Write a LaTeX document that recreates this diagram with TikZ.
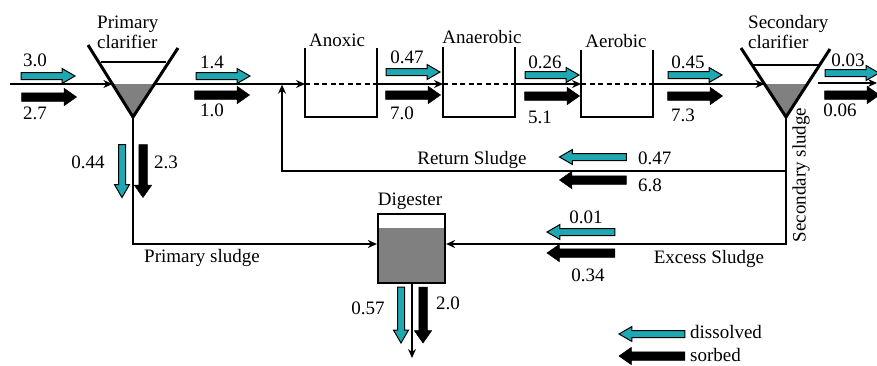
\documentclass[tikz,border=0pt]{standalone}
\usepackage{fontspec}
\setmainfont{Liberation Serif}
\newfontfamily\labelfont{Liberation Serif}
\usetikzlibrary{arrows.meta,shapes.arrows}
\definecolor{flowteal}{RGB}{30,168,178}
\definecolor{sludgegray}{RGB}{128,128,128}
\tikzset{
  lbl/.style={inner sep=0pt, font=\labelfont\fontsize{19}{21}\selectfont},
  pipe/.style={line width=1.3pt},
  flow/.style={pipe, -{Stealth[length=9pt,width=8pt]}},
  wall/.style={line width=2.6pt},
  cone/.style={line width=3pt},
  dissolvedarrow/.style={single arrow, draw=black, fill=flowteal, line width=1pt,
    inner sep=3pt, minimum width=0pt, single arrow head extend=4pt,
    single arrow tip angle=60},
  sorbedarrow/.style={single arrow, draw=black, fill=black, line width=0.5pt,
    inner sep=4pt, minimum width=0pt, single arrow head extend=4.5pt,
    single arrow tip angle=70},
  eastward/.style={shape border rotate=0},
  westward/.style={shape border rotate=180},
  southward/.style={shape border rotate=270},
}
\begin{document}
\begin{tikzpicture}[x=1pt,y=-1pt]
\useasboundingbox (0,0) rectangle (877,365);

% ---- key points of the process line
\coordinate (in)   at (10,84);
\coordinate (pcL)  at (112.4,84);
\coordinate (pcR)  at (154.5,84);
\coordinate (pcV)  at (133,117);
\coordinate (anL)  at (305,84);
\coordinate (anR)  at (377,84);
\coordinate (naL)  at (443,84);
\coordinate (naR)  at (515,84);
\coordinate (aeL)  at (581,84);
\coordinate (aeR)  at (653,84);
\coordinate (scL)  at (764.5,84);
\coordinate (scV)  at (786,117);
\coordinate (outA) at (818,83);
\coordinate (outB) at (877,83);
\coordinate (retA) at (786,171);
\coordinate (retB) at (282,171);
\coordinate (retC) at (282,84.7);
\coordinate (psB)  at (133,244);
\coordinate (exB)  at (786,244);
\coordinate (dgOut) at (412,358);

% ---- primary clarifier
\fill[sludgegray] (pcL) -- (pcR) -- (pcV) -- cycle;
\draw[pipe] (101,62) -- (166,62);
\draw[cone] (88,45) -- (pcV) -- (178,48);

% ---- secondary clarifier
\fill[sludgegray] (764.5,84) -- (807,84) -- (scV) -- cycle;
\draw[pipe] (753,65) -- (819,65);
\draw[cone] (741,48) -- (scV) -- (830,49);

% ---- reactor tanks
\draw[wall] (305,48) -- (305,117) -- (377,117) -- (377,48);
\draw[wall] (443,47) -- (443,117) -- (515,117) -- (515,47);
\draw[wall] (581,50) -- (581,117) -- (653,117) -- (653,50);
\draw[pipe,dash pattern=on 5pt off 3.5pt] (anL) -- (anR);
\draw[pipe,dash pattern=on 5pt off 3.5pt] (naL) -- (naR);
\draw[pipe,dash pattern=on 5pt off 3.5pt] (aeL) -- (aeR);

% ---- digester
\node[draw, line width=2.2pt, fill=sludgegray, minimum width=67pt, minimum height=69pt,
      inner sep=0pt] (dig) at (411.5,248.5) {};
\fill[white] (379,215) rectangle (444,228);

% ---- connectors
\draw[flow] (in) -- (pcL);
\draw[flow] (pcR) -- (anL);
\draw[flow] (anR) -- (naL);
\draw[flow] (naR) -- (aeL);
\draw[flow] (aeR) -- (scL);
\draw[flow] (outA) -- (outB);
\draw[flow] (scV) -- (retA) -- (retB) -- (retC);
\draw[flow] (pcV) -- (psB) -- (dig.west |- psB);
\draw[flow] (retA) -- (exB) -- (dig.east |- exB);
\draw[flow] (dig.south -| dgOut) -- (dgOut);

% ---- mass-flow arrows
\node[dissolvedarrow, eastward, minimum height=54pt] (a1) at (45,76) {};
\node[sorbedarrow, eastward, minimum height=55pt] (b1) at (46,97) {};
\node[dissolvedarrow, eastward, minimum height=54pt] (a2) at (220,76) {};
\node[sorbedarrow, eastward, minimum height=55pt] (b2) at (219,95) {};
\node[dissolvedarrow, eastward, minimum height=54pt] (a3) at (410,72) {};
\node[sorbedarrow, eastward, minimum height=55pt] (b3) at (410,95) {};
\node[dissolvedarrow, eastward, minimum height=54pt] (a4) at (549,75) {};
\node[sorbedarrow, eastward, minimum height=55pt] (b4) at (549,96) {};
\node[dissolvedarrow, eastward, minimum height=54pt] (a5) at (692,75) {};
\node[sorbedarrow, eastward, minimum height=55pt] (b5) at (692,96) {};
\node[dissolvedarrow, eastward, minimum height=54pt] (a6) at (849,73) {};
\node[sorbedarrow, eastward, minimum height=55pt] (b6) at (849,95) {};

\node[dissolvedarrow, southward, minimum height=53pt] (a7) at (122,168) {};
\node[sorbedarrow, southward, minimum height=53pt] (b7) at (143,168) {};
\node[dissolvedarrow, southward, minimum height=56pt] (a8) at (401,312) {};
\node[sorbedarrow, southward, minimum height=56pt] (b8) at (423,312) {};

\node[dissolvedarrow, westward, minimum height=67pt] (a9) at (596,157) {};
\node[sorbedarrow, westward, minimum height=67pt] (b9) at (596,180) {};
\node[dissolvedarrow, westward, minimum height=68pt] (a10) at (584,232) {};
\node[sorbedarrow, westward, minimum height=68pt] (b10) at (584,253) {};
\node[dissolvedarrow, westward, minimum height=66pt] (a11) at (655,334) {};
\node[sorbedarrow, westward, minimum height=66pt] (b11) at (655,356) {};

% ---- labels
\node[lbl, anchor=west, align=left] (tpc) at (97,32) {Primary\\[-1pt]clarifier};
\node[lbl, anchor=west, align=left] (tsc) at (748,32) {Secondary\\[-1pt]clarifier};
\node[lbl] (tan) at (337,40) {Anoxic};
\node[lbl] (tna) at (482,37) {Anaerobic};
\node[lbl] (tae) at (616,41) {Aerobic};
\node[lbl] (tdg) at (410,201) {Digester};
\node[lbl] (tret) at (472,160) {Return Sludge};
\node[lbl] (tps) at (202,258) {Primary sludge};
\node[lbl] (tex) at (709,259) {Excess Sludge};
\node[lbl, rotate=90] (tss) at (801,175) {Secondary sludge};

\node[lbl] at (35,60) {3.0};
\node[lbl] at (35,113) {2.7};
\node[lbl] at (212,62) {1.4};
\node[lbl] at (212,110) {1.0};
\node[lbl] at (88,162) {0.44};
\node[lbl] at (166,162) {2.3};
\node[lbl] at (407,57) {0.47};
\node[lbl] at (402,113) {7.0};
\node[lbl] at (545,62) {0.26};
\node[lbl] at (540,117) {5.1};
\node[lbl] at (688,62) {0.45};
\node[lbl] at (683,115) {7.3};
\node[lbl] at (848,60) {0.03};
\node[lbl] at (840,110) {0.06};
\node[lbl, anchor=west] at (638,158) {0.47};
\node[lbl, anchor=west] at (638,185) {6.8};
\node[lbl] at (586,217) {0.01};
\node[lbl] at (588,275) {0.34};
\node[lbl] at (368,308) {0.57};
\node[lbl] at (448,303) {2.0};
\node[lbl, anchor=west] at (690,332) {dissolved};
\node[lbl, anchor=west] at (690,355) {sorbed};
\end{tikzpicture}
\end{document}
